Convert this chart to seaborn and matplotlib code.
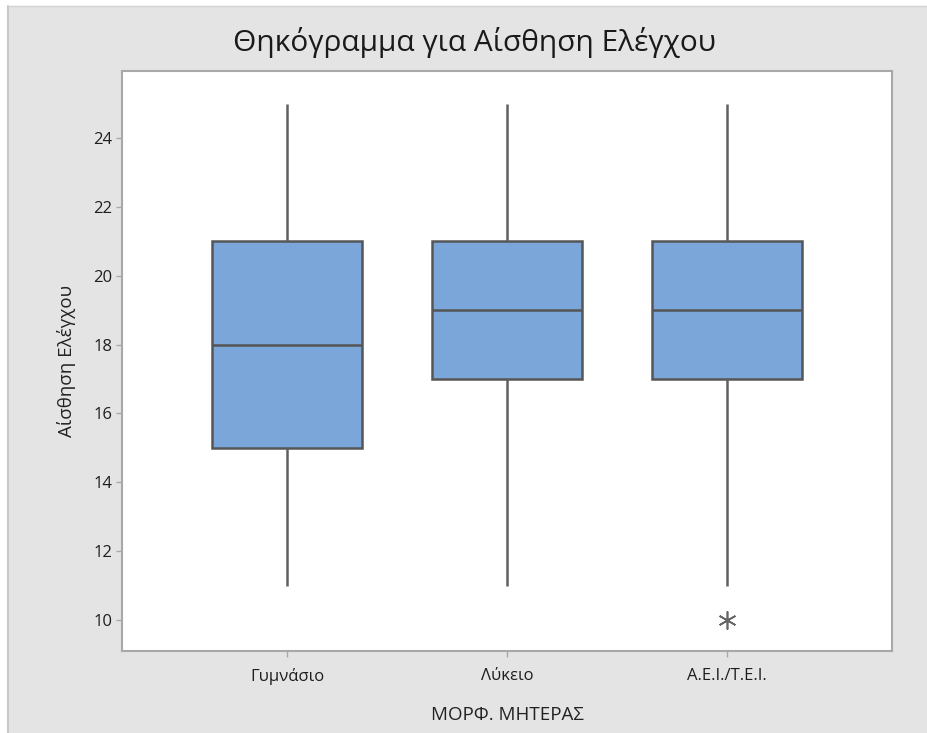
import numpy as np
import pandas as pd
import matplotlib
matplotlib.use("Agg")
import matplotlib.pyplot as plt
from matplotlib.patches import Rectangle
from matplotlib.lines import Line2D
import seaborn as sns

# Scores of "Αίσθηση Ελέγχου" grouped by mother's education level
categories = ["Γυμνάσιο", "Λύκειο", "Α.Ε.Ι./Τ.Ε.Ι."]
scores_gymnasio = [11, 15, 15, 18, 21, 21, 25]
scores_lykeio = [11, 17, 17, 19, 21, 21, 25]
scores_aei = [10, 11, 17, 17, 17, 19, 21, 21, 21, 25, 25]
y_ticks = [10, 12, 14, 16, 18, 20, 22, 24]

df = pd.DataFrame({
    "group": ([categories[0]] * len(scores_gymnasio)
              + [categories[1]] * len(scores_lykeio)
              + [categories[2]] * len(scores_aei)),
    "score": scores_gymnasio + scores_lykeio + scores_aei,
})

sns.set_theme(style="white")
plt.rcParams["font.family"] = ["Open Sans", "DejaVu Sans"]

W, H = 928, 733
fig = plt.figure(figsize=(W / 100, H / 100), dpi=100, facecolor="white")

# window-like gray panel behind the chart, with a thin frame on its left and top
panel = Rectangle((8 / W, 0), 1 - 8 / W, 1 - 6 / H, transform=fig.transFigure,
                  facecolor="#e4e4e4", edgecolor="none", zorder=-10)
fig.patches.append(panel)
fig.lines.append(Line2D([8 / W, 8 / W], [0, 1 - 6 / H], transform=fig.transFigure,
                        color="#c8c8c8", linewidth=1.5, zorder=-9))
fig.lines.append(Line2D([8 / W, 1], [1 - 6 / H, 1 - 6 / H], transform=fig.transFigure,
                        color="#d2d2d2", linewidth=1.0, zorder=-9))

ax = fig.add_axes([122 / W, 1 - 651 / H, (892 - 122) / W, (651 - 71) / H])
ax.set_facecolor("white")

edge = "#565656"
sns.boxplot(
    data=df, x="group", y="score", order=categories, ax=ax,
    color="#7ba6d9", saturation=1, width=0.68, whis=1.5,
    linecolor=edge, linewidth=1.8, showcaps=False,
    flierprops=dict(marker=(6, 2, 0), markersize=13, markeredgecolor="#666666",
                    markerfacecolor="none", markeredgewidth=1.2),
    medianprops=dict(color=edge, linewidth=1.8),
    whiskerprops=dict(color="#606060", linewidth=1.8),
)

ax.set_xlim(-0.75, 2.75)
ax.set_ylim(9.1, 25.95)
ax.set_yticks(y_ticks)
ax.set_yticklabels([str(t) for t in y_ticks])

for s in ax.spines.values():
    s.set_visible(True)
    s.set_color("#a8a8a8")
    s.set_linewidth(1.5)

ax.tick_params(axis="both", which="major", direction="out", length=4, width=1,
               color="#a8a8a8", labelsize=12, labelcolor="#1e1e1e", pad=3,
               left=True, bottom=True)
ax.tick_params(axis="x", pad=8)

ax.set_xlabel("ΜΟΡΦ. ΜΗΤΕΡΑΣ", fontsize=13.5, color="#222222", labelpad=15)
ax.set_ylabel("Αίσθηση Ελέγχου", fontsize=13.5, color="#222222", labelpad=12)

fig.text(475 / W, 1 - 42 / H, "Θηκόγραμμα για Αίσθηση Ελέγχου",
         ha="center", va="center", fontsize=21.5, color="#1a1a1a")

fig.savefig("out.png", dpi=100, facecolor=fig.get_facecolor())
